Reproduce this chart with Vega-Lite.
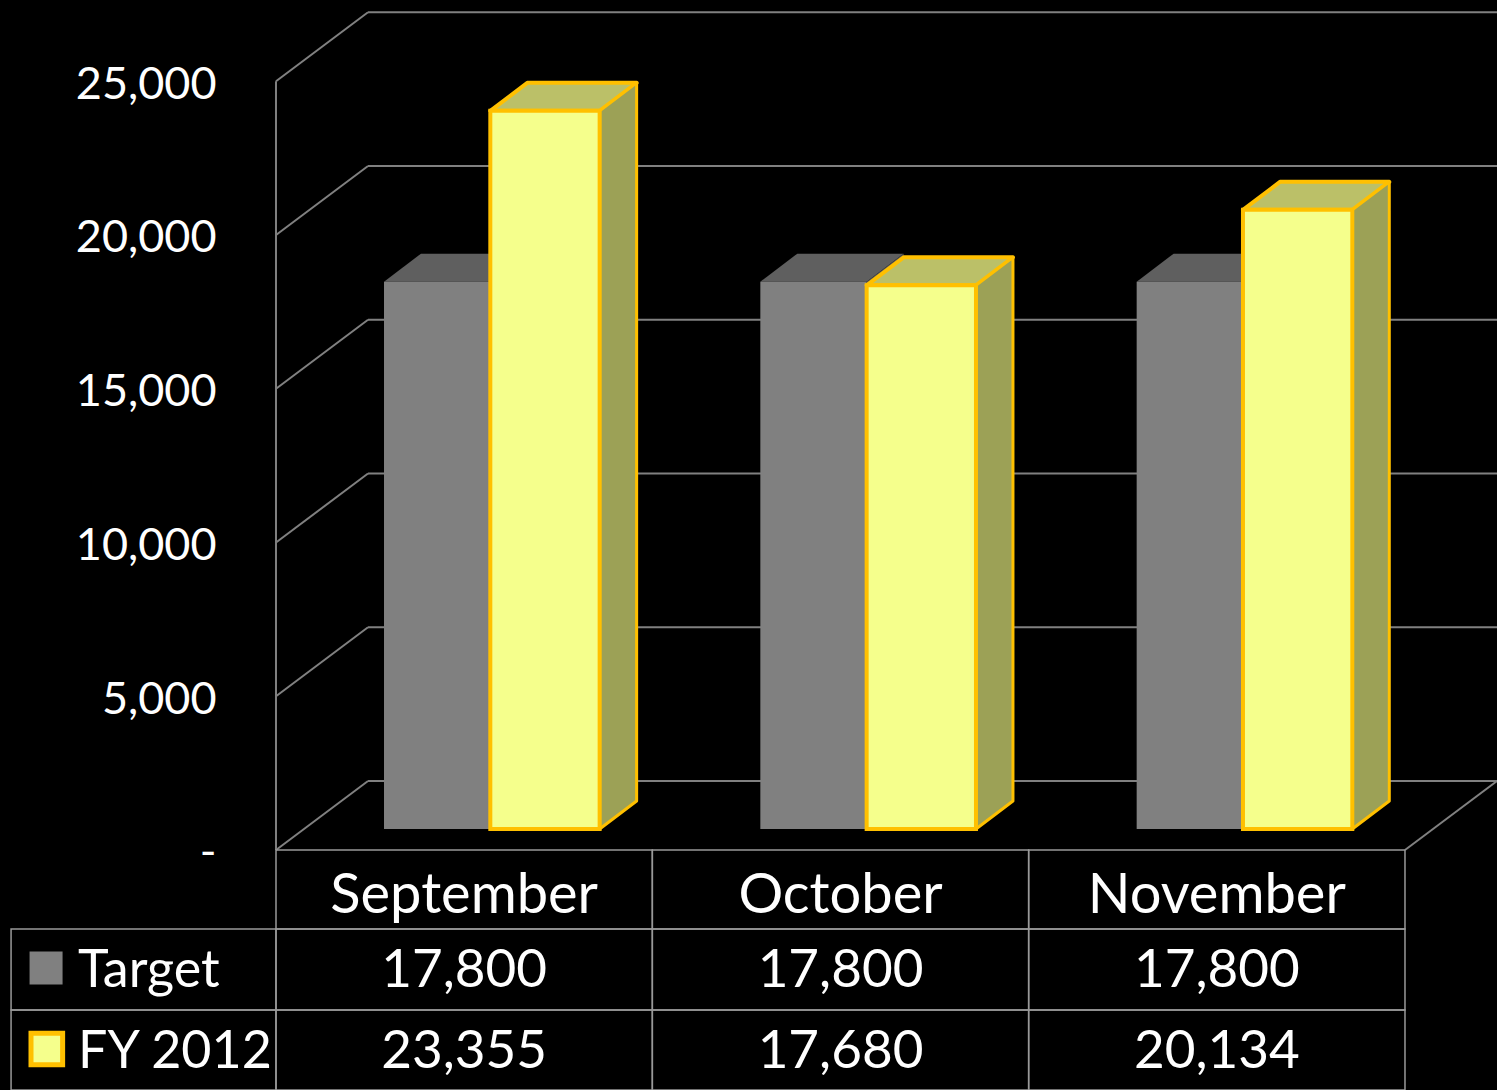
{"$schema":"https://vega.github.io/schema/vega-lite/v6.json","width":1497,"height":1090,"autosize":"none","padding":0,"background":"#000000","config":{"view":{"stroke":null},"text":{"font":"Lato","color":"#ffffff"},"axis":{"labelFont":"Lato"}},
"data":{"values":[
{"month":"September","series":"Target","value":17800},{"month":"October","series":"Target","value":17800},{"month":"November","series":"Target","value":17800},
{"month":"September","series":"FY 2012","value":23355},{"month":"October","series":"FY 2012","value":17680},{"month":"November","series":"FY 2012","value":20134}]},
"transform":[
{"calculate":"indexof(['September','October','November'],datum.month)","as":"i"},
{"calculate":"datum.i+(datum.series==='Target'?0.287:0.5695)","as":"left"},
{"calculate":"datum.i+(datum.series==='Target'?0.5695:0.86)","as":"right"},
{"calculate":"datum.value+683","as":"top"},
{"calculate":"683","as":"bottom"},
{"calculate":"datum.series==='Target'?-2569:-5203","as":"rowTop"},
{"calculate":"datum.series==='Target'?-5203:-7805","as":"rowBottom"},
{"calculate":"datum.series==='Target'?-3837:-6472","as":"rowMid"},
{"calculate":"[0,1]","as":"t"},
{"flatten":["t"]},
{"calculate":"datum.left+datum.t*0.0983","as":"topL"},
{"calculate":"datum.right+datum.t*0.0983","as":"topR"},
{"calculate":"datum.top+datum.t*911","as":"faceTop"},
{"calculate":"datum.bottom+datum.t*911","as":"faceBottom"}
],
"encoding":{"y":{"type":"quantitative","scale":{"domain":[-7805,27642],"nice":false,"zero":false},
   "axis":{"orient":"left","offset":-216,"title":null,"values":[0,5000,10000,15000,20000,25000],"domain":false,"ticks":false,"grid":false,"labelPadding":0,"labelFontSize":45,"labelColor":"#ffffff","labelFont":"Lato","labelOffset":3,"labelExpr":"datum.value===0?'-':format(datum.value,',')"}},
 "x":{"type":"quantitative","scale":{"domain":[-0.7334,3.2445],"nice":false,"zero":false},"axis":null}},
"layer":[
{"data":{"values":[{"tick":0},{"tick":5000},{"tick":10000},{"tick":15000},{"tick":20000},{"tick":25000}]},
 "transform":[{"calculate":"0","as":"x0"},{"calculate":"0.2445","as":"xb"},{"calculate":"3.2445","as":"xe"},{"calculate":"datum.tick+2244","as":"back"}],
 "mark":{"type":"rule","color":"#808080","strokeWidth":2},
 "encoding":{"x":{"field":"xb"},"x2":{"field":"xe"},"y":{"field":"back"}}},
{"data":{"values":[{"tick":0},{"tick":5000},{"tick":10000},{"tick":15000},{"tick":20000},{"tick":25000}]},
 "transform":[{"calculate":"0","as":"x0"},{"calculate":"0.2445","as":"xb"},{"calculate":"datum.tick+2244","as":"back"}],
 "mark":{"type":"rule","color":"#808080","strokeWidth":2},
 "encoding":{"x":{"field":"x0"},"x2":{"field":"xb"},"y":{"field":"tick"},"y2":{"field":"back"}}},
{"data":{"values":[{"tick":0}]},
 "transform":[{"calculate":"3","as":"x0"},{"calculate":"3.2445","as":"xb"},{"calculate":"datum.tick+2244","as":"back"}],
 "mark":{"type":"rule","color":"#808080","strokeWidth":2},
 "encoding":{"x":{"field":"x0"},"x2":{"field":"xb"},"y":{"field":"tick"},"y2":{"field":"back"}}},
{"data":{"values":[{"tick":25000}]},
 "transform":[{"calculate":"0","as":"x0"},{"calculate":"0","as":"base"}],
 "mark":{"type":"rule","color":"#808080","strokeWidth":2},
 "encoding":{"x":{"field":"x0"},"y":{"field":"tick"},"y2":{"field":"base"}}},

{"transform":[{"filter":"datum.series==='Target'"}],
 "mark":{"type":"area","orient":"horizontal","fill":"#5f5f5f"},
 "encoding":{"detail":{"field":"month"},"x":{"field":"topL","stack":null},"x2":{"field":"topR"},"y":{"field":"faceTop"}}},
{"transform":[{"filter":"datum.series==='Target'"},{"calculate":"datum.right+datum.t*0.0983","as":"sideX"}],
 "mark":{"type":"area","orient":"vertical","fill":"#555555"},
 "encoding":{"detail":{"field":"month"},"x":{"field":"sideX"},"y":{"field":"faceTop","stack":null},"y2":{"field":"faceBottom"}}},
{"transform":[{"filter":"datum.series==='Target' && datum.t===0"}],
 "mark":{"type":"rect","fill":"#808080"},
 "encoding":{"x":{"field":"left"},"x2":{"field":"right"},"y":{"field":"top"},"y2":{"field":"bottom"}}},

{"transform":[{"filter":"datum.series==='FY 2012'"}],
 "mark":{"type":"area","orient":"horizontal","fill":"#bbc068","stroke":"#ffc000","strokeWidth":4,"strokeJoin":"round"},
 "encoding":{"detail":{"field":"month"},"x":{"field":"topL","stack":null},"x2":{"field":"topR"},"y":{"field":"faceTop"}}},
{"transform":[{"filter":"datum.series==='FY 2012'"},{"calculate":"datum.right+datum.t*0.0983","as":"sideX"}],
 "mark":{"type":"area","orient":"vertical","fill":"#9ca156","stroke":"#ffc000","strokeWidth":3,"strokeJoin":"round"},
 "encoding":{"detail":{"field":"month"},"x":{"field":"sideX"},"y":{"field":"faceTop","stack":null},"y2":{"field":"faceBottom"}}},
{"transform":[{"filter":"datum.series==='FY 2012' && datum.t===0"}],
 "mark":{"type":"rect","fill":"#f5ff8c","stroke":"#ffc000","strokeWidth":4},
 "encoding":{"x":{"field":"left"},"x2":{"field":"right"},"y":{"field":"top"},"y2":{"field":"bottom"}}},

{"transform":[{"filter":"datum.t===0"},{"calculate":"datum.i+1","as":"cellR"}],
 "mark":{"type":"rect","fillOpacity":0,"stroke":"#999999","strokeWidth":1.5},
 "encoding":{"x":{"field":"i"},"x2":{"field":"cellR"},"y":{"field":"rowTop"},"y2":{"field":"rowBottom"}}},
{"transform":[{"filter":"datum.t===0 && datum.series==='Target'"},{"calculate":"datum.i+1","as":"cellR"},{"calculate":"0","as":"hTop"},{"calculate":"-2569","as":"hBottom"}],
 "mark":{"type":"rect","fillOpacity":0,"stroke":"#999999","strokeWidth":1.5},
 "encoding":{"x":{"field":"i"},"x2":{"field":"cellR"},"y":{"field":"hTop"},"y2":{"field":"hBottom"}}},
{"transform":[{"filter":"datum.t===0 && datum.month==='September'"},{"calculate":"-0.704","as":"labL"},{"calculate":"0","as":"labR"}],
 "mark":{"type":"rect","fillOpacity":0,"stroke":"#999999","strokeWidth":1.5},
 "encoding":{"x":{"field":"labL"},"x2":{"field":"labR"},"y":{"field":"rowTop"},"y2":{"field":"rowBottom"}}},

{"transform":[{"filter":"datum.t===0 && datum.series==='Target'"},{"calculate":"datum.i+0.5","as":"cx"},{"calculate":"-1398","as":"hy"}],
 "mark":{"type":"text","fontSize":56,"baseline":"middle","align":"center","dy":3},
 "encoding":{"text":{"field":"month"},"x":{"field":"cx"},"y":{"field":"hy"}}},
{"transform":[{"filter":"datum.t===0"},{"calculate":"datum.i+0.5","as":"cx"}],
 "mark":{"type":"text","fontSize":53,"baseline":"middle","align":"center","dy":3},
 "encoding":{"text":{"field":"value","type":"quantitative","format":","},"x":{"field":"cx"},"y":{"field":"rowMid"}}},
{"transform":[{"filter":"datum.t===0 && datum.month==='September'"},{"calculate":"-0.526","as":"lx"}],
 "mark":{"type":"text","fontSize":52,"baseline":"middle","align":"left","dy":3},
 "encoding":{"text":{"field":"series"},"x":{"field":"lx"},"y":{"field":"rowMid"}}},
{"transform":[{"filter":"datum.t===0 && datum.month==='September' && datum.series==='Target'"},{"calculate":"-0.611","as":"lx"}],
 "mark":{"type":"point","shape":"square","size":1089,"filled":true,"color":"#808080","opacity":1},
 "encoding":{"x":{"field":"lx"},"y":{"field":"rowMid"}}},
{"transform":[{"filter":"datum.t===0 && datum.month==='September' && datum.series==='FY 2012'"},{"calculate":"-0.609","as":"lx"}],
 "mark":{"type":"point","shape":"square","size":1000,"filled":true,"fill":"#f5ff8c","stroke":"#ffc000","strokeWidth":5,"opacity":1},
 "encoding":{"x":{"field":"lx"},"y":{"field":"rowMid"}}}
]}
